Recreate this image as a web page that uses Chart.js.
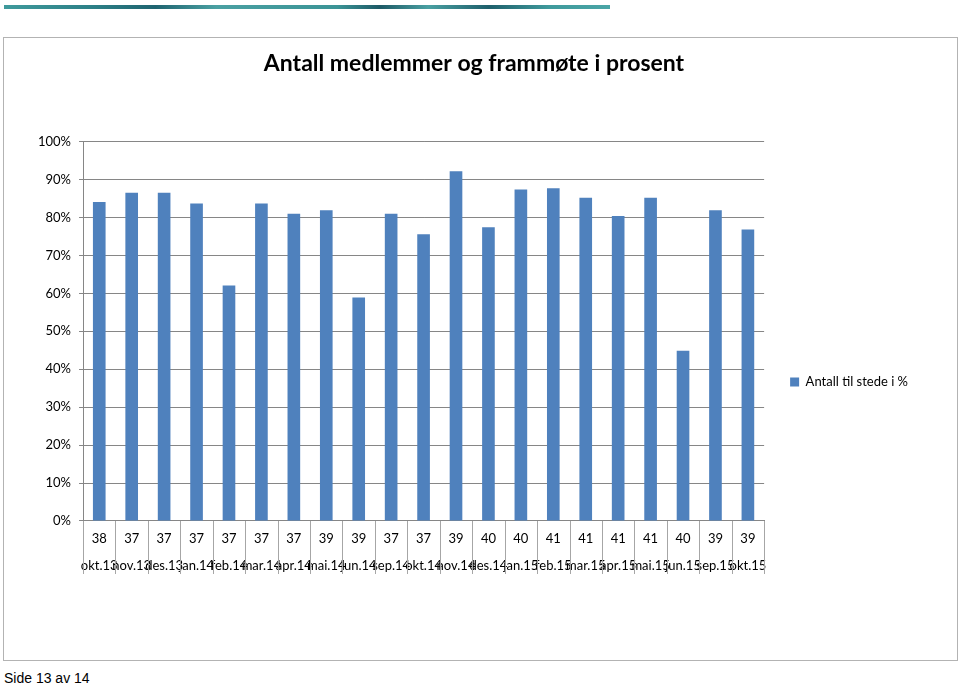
<!DOCTYPE html>
<html>
<head>
<meta charset="utf-8">
<script src="https://cdn.jsdelivr.net/npm/chart.js@4.4.1/dist/chart.umd.min.js"></script>
<style>
  html, body { margin: 0; padding: 0; background: #fff; }
  body { width: 960px; height: 686px; position: relative; overflow: hidden; }
  .topline {
    position: absolute; left: 4px; top: 5px; width: 606px; height: 4px;
    background: linear-gradient(90deg, #3f9a9c 0%, #2c7f86 15%, #1f6470 25%, #4aa0a2 35%, #3b9496 55%, #1d5a66 62%, #4aa0a2 70%, #1e5f6b 80%, #3f9a9c 90%, #4aa5a6 100%);
  }
  .box {
    position: absolute; left: 3px; top: 37px; width: 953px; height: 622px;
    border: 1px solid #b3b3b3;
  }
  .footer {
    position: absolute; left: 4px; top: 670px;
    font-family: "Liberation Sans", Arial, sans-serif; font-size: 14px; color: #000;
  }
</style>
</head>
<body>
<div class="topline"></div>
<div class="box"><canvas id="chart" width="953" height="622"></canvas></div>
<div class="footer">Side 13 av 14</div>
<script>
const months = ['okt.13', 'nov.13', 'des.13', 'jan.14', 'feb.14', 'mar.14', 'apr.14', 'mai.14', 'jun.14', 'sep.14', 'okt.14',
  'nov.14', 'des.14', 'jan.15', 'feb.15', 'mar.15', 'apr.15', 'mai.15', 'jun.15', 'sep.15', 'okt.15'];
const members = [38, 37, 37, 37, 37, 37, 37, 39, 39, 37, 37, 39, 40, 40, 41, 41, 41, 41, 40, 39, 39];
const attendance = [84.1, 86.5, 86.5, 83.7, 62.1, 83.7, 81.0, 81.9, 58.9, 81.0, 75.6,
  92.2, 77.4, 87.4, 87.7, 85.2, 80.4, 85.2, 44.9, 81.9, 76.8];
const seriesName = 'Antall til stede i %';
const chartTitle = 'Antall medlemmer og frammøte i prosent';

const labels = months.map((m, i) => [String(members[i]), m]);

// move the legend down, roughly level with the 40% gridline like in the original
const legendShift = {
  id: 'legendShift',
  afterLayout(chart) {
    const lg = chart.legend;
    const target = 344;
    const shift = target - (lg.top + lg.bottom) / 2;
    lg.top += shift;
    lg.bottom += shift;
  }
};

// vertical separators of the data table under the bars
const tableLines = {
  id: 'tableLines',
  afterDraw(chart) {
    const x = chart.scales.x;
    const c = chart.ctx;
    const n = x.ticks.length;
    const w = (x.right - x.left) / n;
    c.save();
    c.strokeStyle = '#a6a6a6';
    c.lineWidth = 1;
    c.beginPath();
    for (let i = 0; i <= n; i++) {
      const px = Math.round(x.left + i * w) + 0.5;
      c.moveTo(px, x.top);
      c.lineTo(px, x.top + 53);
    }
    c.stroke();
    c.restore();
  }
};

const ctx = document.getElementById('chart').getContext('2d');
new Chart(ctx, {
  type: 'bar',
  data: {
    labels: labels,
    datasets: [
      {
        label: seriesName,
        data: attendance,
        backgroundColor: '#4f81bd',
        barPercentage: 0.39,
        categoryPercentage: 1,
      },
    ],
  },
  options: {
    responsive: false,
    animation: false,
    layout: { padding: { left: 26, right: 39, bottom: 84, top: 0 } },
    scales: {
      x: {
        offset: true,
        grid: { display: false },
        border: { display: true, color: '#868686' },
        ticks: {
          autoSkip: false,
          maxRotation: 0,
          minRotation: 0,
          padding: -3.5,
          color: '#000',
          font: { family: 'Lato', size: 13, lineHeight: 2.077 },
        },
      },
      y: {
        min: 0,
        max: 100,
        ticks: {
          stepSize: 10,
          padding: 8,
          color: '#000',
          font: { family: 'Lato', size: 13 },
          callback: (v) => v + '%',
        },
        grid: { color: '#868686', tickLength: 4 },
        border: { display: true, color: '#868686' },
      },
    },
    plugins: {
      title: {
        display: true,
        text: chartTitle,
        color: '#000',
        font: { family: 'Lato', size: 23, weight: 'bold' },
        padding: { top: 12, bottom: 64 },
      },
      legend: {
        position: 'right',
        labels: {
          boxWidth: 9,
          boxHeight: 9,
          padding: 26,
          color: '#000',
          font: { family: 'Lato', size: 13 },
        },
      },
      tooltip: { enabled: false },
    },
  },
  plugins: [legendShift, tableLines],
});
</script>
</body>
</html>
